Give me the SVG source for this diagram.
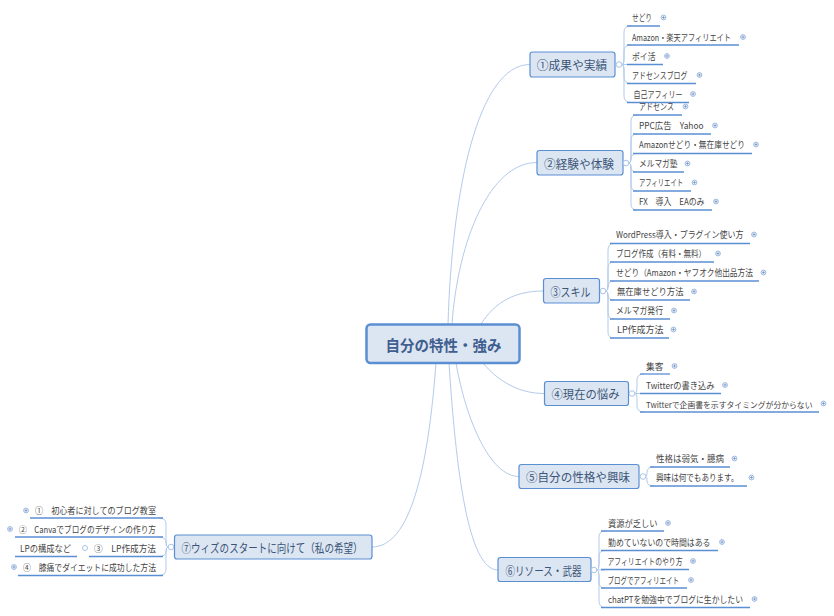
<svg xmlns="http://www.w3.org/2000/svg" width="834" height="616" viewBox="0 0 834 616">
<style>
text{font-family:"Noto Sans CJK JP","Noto Sans",sans-serif;fill:#444;font-size:9px;dominant-baseline:central}
.c text,.n text{fill:#3b5578;font-size:12px;text-anchor:middle}
.c text{font-size:15px;font-weight:700;fill:#3f5f8f}
.c rect{fill:#dce5f2;stroke:#5b8fd3;stroke-width:2.5}
.n rect{fill:#dce5f2;stroke:#5b8fd3;stroke-width:1.2}
.u{stroke:#5b8fd3;stroke-width:1.3;fill:none}
.l{stroke:#b3cbec;stroke-width:1;fill:none}
.p{fill:#fff;stroke:#a9c4e8;stroke-width:1}
.i{fill:#e8eef8;stroke:#9db9e0;stroke-width:1}
.e{text-anchor:end}
</style>
<defs><g id="plus"><circle class="i" r="2.400"/><path d="M-1.300 0H1.300M0-1.300V1.300" stroke="#5b7fb8" stroke-width=".6"/></g></defs>
<g id="connectors">
<path class="l" d="M448 324C452 190 478 64.500 530 64.500M452 324C458 240 490 162.500 537 162.500M481 324C495 302 515 291 543 291M483 363C497 380 518 393.500 544 393.500M456 363C466 420 490 476.500 519 476.500M449 363C456 470 468 570 498 570M436 363C428 470 410 547 372 547"/>
<path class="l" d="M622 64.500Q624 64.500 624 58V32Q624 26 631 26M622 64.500Q624 64.500 624 58V51Q624 45 631 45M622 64.500H631M622 64.500Q624 64.500 624 71V77Q624 83.500 631 83.500M622 64.500Q624 64.500 624 71V96Q624 102.500 631 102.500"/>
<path class="l" d="M629 163Q631 163 631 157V121Q631 115 637 115M629 163Q631 163 631 157V140Q631 134 637 134M629 163Q631 163 631 159Q631 153.500 637 153.500M629 163Q631 163 631 167Q631 172 637 172M629 163Q631 163 631 169V185Q631 191 637 191M629 163Q631 163 631 169V204Q631 210 637 210"/>
<path class="l" d="M606 291Q608 291 608 285V250Q608 243.500 614 243.500M606 291Q608 291 608 285V268Q608 262 614 262M606 291Q608 291 608 287Q608 281 614 281M606 291Q608 291 608 295Q608 300 614 300M606 291Q608 291 608 297V313Q608 319 614 319M606 291Q608 291 608 297V332Q608 338 614 338"/>
<path class="l" d="M635 393.500Q637 393.500 637 387V380Q637 374 644 374M635 393.500H644M635 393.500Q637 393.500 637 400V406Q637 412 644 412"/>
<path class="l" d="M646 476.500Q647 476.500 647 472Q647 467 654 467M646 476.500Q647 476.500 647 481Q647 486 654 486"/>
<path class="l" d="M597 570Q599 570 599 564V537Q599 531 605 531M597 570Q599 570 599 564V556Q599 550.500 605 550.500M597 570H605M597 570Q599 570 599 576V582Q599 588 605 588M597 570Q599 570 599 576V601Q599 607.500 605 607.500"/>
<path class="l" d="M168 547Q166 547 166 541V524Q166 518 159 518M168 547Q166 547 166 543Q166 537 159 537M168 547Q166 547 166 551Q166 556.500 159 556.500M168 547Q166 547 166 553V569Q166 575.500 159 575.500"/>
</g>
<g id="center" class="c"><rect x="366.500" y="324.500" width="153" height="38.500" rx="4"/><text x="443.500" y="344" textLength="116" lengthAdjust="spacingAndGlyphs">自分の特性・強み</text></g>
<g id="n1" class="n"><rect x="530" y="52" width="85" height="25" rx="2.500"/><text x="572" y="64.500" textLength="70.500" lengthAdjust="spacingAndGlyphs">①成果や実績</text><circle class="p" cx="619" cy="64.500" r="2.800"/></g>
<g id="n2" class="n"><rect x="537" y="150.500" width="86" height="24.500" rx="2.500"/><text x="579" y="163" textLength="70" lengthAdjust="spacingAndGlyphs">②経験や体験</text><circle class="p" cx="626" cy="163" r="2.800"/></g>
<g id="n3" class="n"><rect x="543.500" y="278.500" width="56" height="24.500" rx="2.500"/><text x="570.500" y="291" textLength="40" lengthAdjust="spacingAndGlyphs">③スキル</text><circle class="p" cx="603" cy="291" r="2.800"/></g>
<g id="n4" class="n"><rect x="544.500" y="381.500" width="84" height="24" rx="2.500"/><text x="585.500" y="393.500" textLength="68" lengthAdjust="spacingAndGlyphs">④現在の悩み</text><circle class="p" cx="632" cy="393.500" r="2.800"/></g>
<g id="n5" class="n"><rect x="519" y="464.500" width="120" height="24" rx="2.500"/><text x="578" y="476.500" textLength="104" lengthAdjust="spacingAndGlyphs">⑤自分の性格や興味</text><circle class="p" cx="643" cy="476.500" r="2.800"/></g>
<g id="n6" class="n"><rect x="498" y="557.500" width="93" height="24" rx="2.500"/><text x="543.500" y="570" textLength="76" lengthAdjust="spacingAndGlyphs">⑥リソース・武器</text><circle class="p" cx="594" cy="570" r="2.800"/></g>
<g id="n7" class="n"><rect x="174.500" y="535" width="197.500" height="24" rx="2.500"/><text x="272" y="547" textLength="181" lengthAdjust="spacingAndGlyphs">⑦ウィズのスタートに向けて（私の希望）</text><circle class="p" cx="171" cy="547" r="2.800"/></g>
<g id="l11"><text x="632" y="17" textLength="20" lengthAdjust="spacingAndGlyphs">せどり</text><path class="u" d="M627 26H660"/><use href="#plus" x="663.500" y="17.500"/></g>
<g id="l12"><text x="632" y="37" textLength="99" lengthAdjust="spacingAndGlyphs">Amazon・楽天アフィリエイト</text><path class="u" d="M627 45H739"/><use href="#plus" x="743" y="37"/></g>
<g id="l13"><text x="632" y="56" textLength="23.500" lengthAdjust="spacingAndGlyphs">ポイ活</text><path class="u" d="M627 64.500H663"/><use href="#plus" x="667" y="56"/></g>
<g id="l14"><text x="632" y="75" textLength="55.500" lengthAdjust="spacingAndGlyphs">アドセンスブログ</text><path class="u" d="M627 83.500H696"/><use href="#plus" x="699.500" y="75"/></g>
<g id="l15"><text x="633.500" y="94" textLength="49" lengthAdjust="spacingAndGlyphs">自己アフィリー</text><path class="u" d="M627 102.500H689"/><use href="#plus" x="693" y="94"/></g>
<g id="l21"><text x="639" y="106.500" textLength="35" lengthAdjust="spacingAndGlyphs">アドセンス</text><path class="u" d="M633 115H682"/><use href="#plus" x="685.500" y="106.500"/></g>
<g id="l22"><text x="639" y="125.500" textLength="64.500" lengthAdjust="spacingAndGlyphs">PPC広告　Yahoo</text><path class="u" d="M633 134H711"/><use href="#plus" x="715" y="125.500"/></g>
<g id="l23"><text x="639" y="144.500" textLength="106" lengthAdjust="spacingAndGlyphs">Amazonせどり・無在庫せどり</text><path class="u" d="M633 153.500H752"/><use href="#plus" x="756" y="144.500"/></g>
<g id="l24"><text x="639" y="163.500" textLength="38.500" lengthAdjust="spacingAndGlyphs">メルマガ塾</text><path class="u" d="M633 172H684"/><use href="#plus" x="687.500" y="163.500"/></g>
<g id="l25"><text x="639" y="182.500" textLength="44" lengthAdjust="spacingAndGlyphs">アフィリエイト</text><path class="u" d="M633 191H691"/><use href="#plus" x="694.500" y="182.500"/></g>
<g id="l26"><text x="639" y="201.500" textLength="65.500" lengthAdjust="spacingAndGlyphs">FX　導入　EAのみ</text><path class="u" d="M633 210H712"/><use href="#plus" x="716" y="201.500"/></g>
<g id="l31"><text x="616" y="234.500" textLength="127.500" lengthAdjust="spacingAndGlyphs">WordPress導入・プラグイン使い方</text><path class="u" d="M610 243.500H750"/><use href="#plus" x="754" y="234.500"/></g>
<g id="l32"><text x="616" y="253.500" textLength="90" lengthAdjust="spacingAndGlyphs">ブログ作成（有料・無料）</text><path class="u" d="M610 262H714"/><use href="#plus" x="718" y="253.500"/></g>
<g id="l33"><text x="616" y="272.500" textLength="137" lengthAdjust="spacingAndGlyphs">せどり（Amazon・ヤフオク他出品方法</text><path class="u" d="M610 281H759"/><use href="#plus" x="763.500" y="272.500"/></g>
<g id="l34"><text x="617" y="291.500" textLength="66.500" lengthAdjust="spacingAndGlyphs">無在庫せどり方法</text><path class="u" d="M610 300H690"/><use href="#plus" x="694" y="291.500"/></g>
<g id="l35"><text x="616" y="310.500" textLength="47" lengthAdjust="spacingAndGlyphs">メルマガ発行</text><path class="u" d="M610 319H670"/><use href="#plus" x="674" y="310.500"/></g>
<g id="l36"><text x="617" y="329.500" textLength="46.500" lengthAdjust="spacingAndGlyphs">LP作成方法</text><path class="u" d="M610 338H669"/><use href="#plus" x="673.500" y="329.500"/></g>
<g id="l41"><text x="646" y="366" textLength="17.500" lengthAdjust="spacingAndGlyphs">集客</text><path class="u" d="M640 374H670"/><use href="#plus" x="674.500" y="366"/></g>
<g id="l42"><text x="646" y="385" textLength="68.500" lengthAdjust="spacingAndGlyphs">Twitterの書き込み</text><path class="u" d="M640 393.500H721"/><use href="#plus" x="725" y="385"/></g>
<g id="l43"><text x="646" y="403.500" style="font-size:8.200px" textLength="166.500" lengthAdjust="spacingAndGlyphs">Twitterで企画書を示すタイミングが分からない</text><path class="u" d="M640 412H819"/><use href="#plus" x="823.500" y="403.500"/></g>
<g id="l51"><text x="656" y="458.500" textLength="68" lengthAdjust="spacingAndGlyphs">性格は弱気・臆病</text><path class="u" d="M650 467H730"/><use href="#plus" x="734.500" y="458.500"/></g>
<g id="l52"><text x="656" y="477.500" textLength="82.500" lengthAdjust="spacingAndGlyphs">興味は何でもあります。</text><path class="u" d="M650 486H747"/><use href="#plus" x="751.500" y="477.500"/></g>
<g id="l61"><text x="608" y="523" textLength="49.500" lengthAdjust="spacingAndGlyphs">資源が乏しい</text><path class="u" d="M601 531H664"/><use href="#plus" x="668" y="523"/></g>
<g id="l62"><text x="608" y="542" textLength="102.500" lengthAdjust="spacingAndGlyphs">勤めていないので時間はある</text><path class="u" d="M601 550.500H718"/><use href="#plus" x="722" y="542"/></g>
<g id="l63"><text x="607.500" y="561" textLength="75" lengthAdjust="spacingAndGlyphs">アフィリエイトのやり方</text><path class="u" d="M601 569.500H689"/><use href="#plus" x="693" y="561"/></g>
<g id="l64"><text x="607.500" y="580" textLength="71.500" lengthAdjust="spacingAndGlyphs">ブログでアフィリエイト</text><path class="u" d="M601 588H687"/><use href="#plus" x="691" y="580"/></g>
<g id="l65"><text x="608" y="599" textLength="135" lengthAdjust="spacingAndGlyphs">chatPTを勉強中でブログに生かしたい</text><path class="u" d="M601 607.500H750"/><use href="#plus" x="754.500" y="599"/></g>
<g id="l71"><text class="e" x="156" y="510" textLength="121" lengthAdjust="spacingAndGlyphs">①　初心者に対してのブログ教室</text><path class="u" d="M30 518H163"/><use href="#plus" x="26" y="510.500"/></g>
<g id="l72"><text class="e" x="156" y="529" textLength="137" lengthAdjust="spacingAndGlyphs">②　Canvaでブログのデザインの作り方</text><path class="u" d="M15 537H163"/><use href="#plus" x="10" y="529"/></g>
<g id="l73"><text class="e" x="156" y="548" textLength="62" lengthAdjust="spacingAndGlyphs">③　LP作成方法</text><path class="u" d="M89 556.500H163"/><circle class="p" cx="85" cy="548" r="2.500"/></g>
<g id="l74"><text x="20" y="548" textLength="51" lengthAdjust="spacingAndGlyphs">LPの構成など</text><path class="u" d="M15 556.500H77"/></g>
<g id="l75"><text class="e" x="156" y="567" textLength="133" lengthAdjust="spacingAndGlyphs">④　膝痛でダイエットに成功した方法</text><path class="u" d="M18 575.500H163"/><use href="#plus" x="14" y="567"/></g>
</svg>
